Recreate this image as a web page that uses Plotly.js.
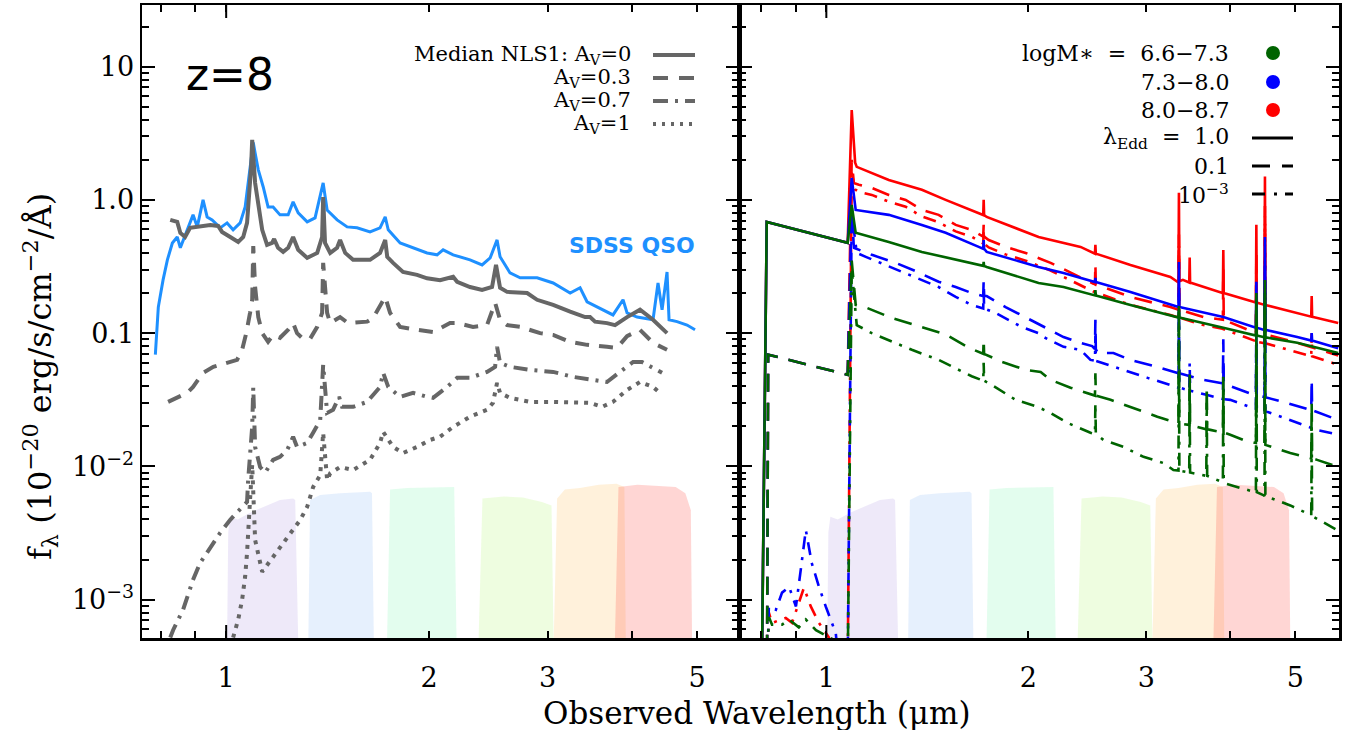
<!DOCTYPE html>
<html><head><meta charset="utf-8">
<script src="https://cdn.plot.ly/plotly-3.0.1.min.js"></script>
<style>html,body{margin:0;padding:0;background:#fff}#chart{width:1354px;height:730px}</style>
</head><body><div id="chart"></div>
<script>
// ---------------- DATA ----------------
// Left panel: SDSS QSO composite
const qsoLam = [0.785,0.793,0.806,0.818,0.832,0.846,0.855,0.875,0.893,0.906,0.924,0.937,0.953,0.980,1.003,1.024,1.049,1.067,1.085,1.097,1.104,1.116,1.135,1.154,1.174,1.202,1.236,1.257,1.279,1.319,1.355,1.393,1.412,1.461,1.512,1.564,1.635,1.692,1.722,1.740,1.812,1.894,1.987,2.056,2.099,2.172,2.301,2.398,2.465,2.524,2.550,2.638,2.731,2.894,3.057,3.240,3.352,3.433,3.625,3.751,3.882,3.936,4.073,4.301,4.375,4.436,4.512,4.543,4.669,4.831,4.965];
const qsoF = [0.069,0.157,0.251,0.355,0.475,0.527,0.437,0.596,0.772,0.627,1.0,0.745,0.708,0.617,0.672,0.596,0.672,0.886,1.77,2.70,2.25,1.68,1.25,0.886,0.886,0.772,0.772,0.966,0.80,0.684,0.733,1.34,0.84,0.708,0.627,0.617,0.575,0.617,0.745,0.596,0.475,0.437,0.40,0.387,0.422,0.387,0.355,0.325,0.367,0.501,0.374,0.283,0.260,0.260,0.238,0.200,0.219,0.172,0.150,0.137,0.178,0.142,0.132,0.126,0.238,0.150,0.288,0.126,0.122,0.115,0.106];

// Median NLS1, Av = 0
const nls0Lam = [0.826,0.846,0.855,0.869,0.884,0.915,0.947,0.973,0.986,1.014,1.042,1.060,1.074,1.089,1.093,1.104,1.116,1.131,1.150,1.170,1.178,1.194,1.215,1.236,1.257,1.279,1.319,1.365,1.388,1.393,1.402,1.427,1.461,1.476,1.502,1.543,1.635,1.692,1.722,1.734,1.769,1.830,1.920,1.987,2.077,2.172,2.202,2.301,2.398,2.481,2.515,2.550,2.612,2.797,2.894,3.057,3.240,3.410,3.468,3.528,3.675,3.777,3.936,4.073,4.114,4.301,4.512];
const nls0F = [0.708,0.684,0.565,0.527,0.617,0.638,0.649,0.638,0.575,0.527,0.484,0.527,0.672,1.77,2.82,1.34,0.95,0.596,0.459,0.475,0.509,0.437,0.407,0.437,0.527,0.422,0.367,0.40,0.527,1.05,0.475,0.40,0.437,0.501,0.40,0.355,0.355,0.40,0.501,0.374,0.337,0.288,0.274,0.258,0.25,0.265,0.243,0.222,0.211,0.222,0.325,0.219,0.204,0.200,0.178,0.163,0.145,0.132,0.132,0.122,0.119,0.115,0.132,0.145,0.150,0.126,0.100];
// Av = 0.3
const nls3Lam = [0.820,0.846,0.875,0.893,0.924,0.957,1.003,1.038,1.056,1.071,1.085,1.093,1.097,1.104,1.116,1.131,1.154,1.174,1.202,1.236,1.257,1.274,1.301,1.332,1.365,1.388,1.393,1.412,1.427,1.476,1.517,1.619,1.652,1.722,1.751,1.812,1.920,2.028,2.149,2.202,2.325,2.439,2.507,2.550,2.612,2.731,2.924,3.057,3.240,3.433,3.675,3.803,3.936,4.114,4.301,4.512];
const nls3F = [0.0305,0.0327,0.0356,0.0395,0.0504,0.0559,0.0598,0.0631,0.075,0.10,0.142,0.178,0.45,0.222,0.132,0.10,0.0861,0.097,0.0923,0.106,0.119,0.10,0.0906,0.0906,0.1115,0.142,0.337,0.142,0.119,0.132,0.119,0.122,0.130,0.187,0.142,0.1115,0.106,0.102,0.119,0.119,0.1115,0.115,0.169,0.126,0.115,0.1115,0.10,0.097,0.0861,0.0817,0.079,0.0776,0.095,0.106,0.0846,0.075];
// Av = 0.7
const nls7Lam = [0.826,0.834,0.863,0.893,0.915,0.947,0.980,1.014,1.049,1.074,1.078,1.085,1.093,1.097,1.104,1.123,1.143,1.174,1.202,1.232,1.257,1.274,1.319,1.346,1.379,1.393,1.412,1.441,1.471,1.486,1.543,1.619,1.692,1.710,1.740,1.812,1.894,1.987,2.028,2.128,2.202,2.301,2.439,2.507,2.524,2.550,2.638,2.825,3.057,3.273,3.468,3.675,3.842,4.018,4.143,4.301,4.436];
const nls7F = [5.2e-4,5.9e-4,8.4e-4,1.41e-3,1.89e-3,2.49e-3,3.18e-3,3.98e-3,4.72e-3,5.42e-3,7.9e-3,0.0133,0.0198,0.039,0.014,0.0099,0.009,0.0112,0.0118,0.0133,0.0167,0.014,0.015,0.0179,0.0223,0.0578,0.0252,0.0266,0.0333,0.028,0.028,0.0305,0.0395,0.0504,0.0395,0.0333,0.0356,0.0333,0.0327,0.0395,0.0462,0.0462,0.0512,0.0559,0.079,0.0598,0.0559,0.053,0.0512,0.047,0.0446,0.043,0.0512,0.0608,0.0608,0.0548,0.0504];
// Av = 1
const nls10Lam = [1.024,1.042,1.056,1.067,1.074,1.078,1.085,1.093,1.104,1.131,1.174,1.215,1.257,1.288,1.319,1.346,1.379,1.393,1.412,1.427,1.476,1.543,1.635,1.692,1.710,1.769,1.830,1.920,2.007,2.077,2.172,2.301,2.439,2.489,2.524,2.550,2.638,2.825,3.057,3.273,3.468,3.613,3.751,3.936,4.114,4.301,4.405];
const nls10F = [5.2e-4,7.1e-4,1.0e-3,1.49e-3,2.25e-3,3.52e-3,5.6e-3,0.0103,2.81e-3,1.62e-3,2.1e-3,2.67e-3,3.34e-3,3.97e-3,4.98e-3,7.0e-3,8.6e-3,0.0179,7.9e-3,8.9e-3,9.9e-3,9.4e-3,0.0112,0.0150,0.0182,0.0140,0.0126,0.0140,0.0158,0.0167,0.0198,0.0236,0.0266,0.030,0.0424,0.0356,0.0327,0.0305,0.0305,0.030,0.030,0.028,0.0305,0.0375,0.043,0.0395,0.0356];

// Right panel model spectra: continuum nodes + emission lines [lambda, base, peak]
// logM* 8.0-8.7 (red)
const redEdd1Lam = [0.802,0.815,1.076,1.091,1.104,1.110,1.239,1.388,1.506,1.687,1.734,2.072,2.393,2.502,2.840,3.257,3.337,3.40,3.894,4.39,5.034,5.794];
const redEdd1F = [4e-4,0.684,0.476,4.73,1.9,1.77,1.41,1.19,1.0,0.795,0.745,0.527,0.444,0.40,0.325,0.264,0.243,0.251,0.20,0.169,0.142,0.119];
const redEdd1Lines = [[1.716,0.77,1.0],[2.518,0.395,0.46],[3.354,0.245,1.13],[3.48,0.24,0.37],[3.906,0.20,0.42],[4.375,0.17,0.65],[4.506,0.163,1.5],[5.29,0.133,0.19]];
const redEdd01Lam = [0.816,0.819,1.076,1.091,1.099,1.118,1.169,1.239,1.313,1.388,1.470,1.559,1.647,1.746,1.850,1.982,2.159,2.502,2.537,2.840,3.257,3.648,3.894,4.39,5.034,5.794];
const redEdd01F = [4e-4,0.069,0.0487,2.0,1.34,1.30,1.23,1.09,1.0,0.841,0.772,0.649,0.596,0.50,0.444,0.40,0.337,0.235,0.230,0.187,0.157,0.132,0.126,0.10,0.0846,0.068];
const redEdd01Lines = [[1.716,0.53,0.65],[2.518,0.232,0.33],[3.354,0.15,0.55],[3.906,0.126,0.30],[4.375,0.10,0.42],[4.506,0.098,0.9]];
const redEdd3Lam = [0.8175,0.821,0.830,0.870,0.889,0.926,0.948,0.975,1.009,1.03,1.076,1.091,1.103,1.118,1.169,1.239,1.313,1.388,1.470,1.559,1.647,1.746,1.850,1.982,2.159,2.502,2.537,2.840,3.257,3.648,3.894,4.39,5.034,5.794];
const redEdd3F = [4e-4,8.0e-4,6.7e-4,7.3e-4,6.7e-4,1.23e-3,8.9e-4,6.7e-4,5.2e-4,3e-4,3e-4,1.6,1.2,1.15,1.09,0.97,0.89,0.75,0.68,0.58,0.53,0.44,0.39,0.35,0.295,0.205,0.20,0.163,0.137,0.115,0.108,0.086,0.072,0.058];
const redEdd3Lines = [[1.716,0.47,0.60],[3.354,0.131,0.45],[4.375,0.087,0.3],[4.506,0.084,0.75],[5.29,0.067,0.1]];
// logM* 7.3-8.0 (blue)
const bluEdd1Lam = [0.802,0.815,1.076,1.091,1.106,1.239,1.388,1.506,1.687,1.734,2.072,2.257,2.502,2.840,3.291,3.906,4.48,5.034,5.794];
const bluEdd1F = [4e-4,0.684,0.476,1.46,0.841,0.772,0.649,0.566,0.444,0.407,0.314,0.283,0.243,0.204,0.163,0.132,0.106,0.0935,0.077];
const bluEdd1Lines = [[1.716,0.43,0.50],[2.518,0.242,0.26],[3.354,0.157,0.342],[4.375,0.11,0.243],[4.506,0.106,0.527],[5.29,0.088,0.10]];
const bluEdd01Lam = [0.816,0.819,1.076,1.091,1.099,1.169,1.269,1.359,1.470,1.559,1.647,1.734,1.850,2.020,2.108,2.257,2.393,2.490,2.537,2.679,2.840,3.115,3.337,3.648,3.95,4.241,4.48,4.80,5.265,5.794];
const bluEdd01F = [4e-4,0.069,0.0487,0.9,0.437,0.387,0.337,0.292,0.243,0.222,0.20,0.19,0.157,0.125,0.1115,0.0935,0.0846,0.08,0.071,0.071,0.063,0.0559,0.0504,0.0446,0.041,0.036,0.0333,0.0305,0.0266,0.0223];
const bluEdd01Lines = [[1.716,0.19,0.25],[2.518,0.076,0.126],[3.354,0.050,0.20],[3.906,0.042,0.09],[4.375,0.034,0.15],[4.506,0.033,0.32],[5.29,0.0264,0.045]];
const bluEdd3Lam = [0.8175,0.821,0.841,0.859,0.880,0.901,0.916,0.932,0.951,0.975,0.998,1.033,1.045,1.076,1.091,1.110,1.145,1.313,1.470,1.559,1.647,1.787,1.954,2.072,2.108,2.257,2.393,2.476,2.679,2.840,3.012,3.257,3.453,3.698,4.0,4.285,4.59,5.034,5.39,5.794];
const bluEdd3F = [4e-4,8.9e-4,8.4e-4,1.13e-3,1.25e-3,8.9e-4,1.68e-3,3.34e-3,1.89e-3,1.25e-3,8.9e-4,5.6e-4,3e-4,3e-4,0.8,0.40,0.374,0.283,0.222,0.187,0.163,0.142,0.1115,0.10,0.0935,0.079,0.075,0.063,0.0559,0.0512,0.0462,0.0409,0.0375,0.0343,0.0316,0.028,0.0252,0.0212,0.0188,0.0173];
const bluEdd3Lines = [[1.716,0.153,0.22],[2.518,0.062,0.095],[3.354,0.039,0.15],[3.48,0.037,0.06],[3.906,0.032,0.06],[4.375,0.027,0.1],[4.506,0.026,0.25]];
// logM* 6.6-7.3 (green)
const grnEdd1Lam = [0.802,0.815,1.076,1.091,1.106,1.239,1.388,1.559,1.687,1.734,2.072,2.257,2.502,2.840,3.337,3.906,4.48,5.034,5.794];
const grnEdd1F = [4e-4,0.684,0.476,0.917,0.566,0.484,0.407,0.355,0.325,0.314,0.238,0.222,0.193,0.163,0.132,0.110,0.0935,0.0846,0.071];
const grnEdd1Lines = [[1.716,0.32,0.342],[2.518,0.192,0.21],[3.354,0.131,0.16],[4.375,0.096,0.2],[4.506,0.093,0.25]];
const grnEdd01Lam = [0.816,0.819,1.076,1.091,1.106,1.149,1.252,1.506,1.630,1.825,1.982,2.087,2.159,2.312,2.494,2.652,2.840,3.115,3.337,3.736,4.0,4.183,4.48,4.915,5.39,5.794];
const grnEdd01F = [4e-4,0.069,0.0487,0.35,0.163,0.155,0.130,0.098,0.0778,0.061,0.053,0.0512,0.0446,0.039,0.0343,0.0316,0.028,0.0236,0.0212,0.0188,0.0173,0.0158,0.0146,0.0126,0.0112,0.0099];
const grnEdd01Lines = [[1.716,0.07,0.09],[2.518,0.034,0.05],[3.354,0.021,0.15],[3.48,0.0205,0.05],[3.69,0.019,0.04],[3.906,0.018,0.05],[4.375,0.015,0.1],[4.506,0.0145,0.2],[5.29,0.0115,0.03]];
const grnEdd3Lam = [0.8175,0.821,0.830,0.859,0.880,0.910,0.932,0.965,0.998,1.033,1.05,1.076,1.091,1.110,1.169,1.239,1.341,1.470,1.647,1.764,1.915,2.064,2.159,2.289,2.476,2.589,2.773,2.970,3.181,3.291,3.648,3.95,4.183,4.48,4.915,5.318,5.794];
const grnEdd3F = [4e-4,7.4e-4,6.5e-4,6.5e-4,7.1e-4,6.2e-4,7.1e-4,5.9e-4,5.4e-4,4.9e-4,3e-4,3e-4,0.3,0.115,0.10,0.0887,0.075,0.063,0.0475,0.0409,0.0316,0.028,0.0252,0.0212,0.0179,0.0158,0.014,0.0118,0.0106,0.0094,0.0086,0.0074,0.0068,0.0061,0.0051,0.0042,0.0033];
const grnEdd3Lines = [[1.716,0.044,0.06],[2.518,0.0175,0.03],[3.354,0.0093,0.12],[3.48,0.009,0.04],[3.69,0.0085,0.03],[3.906,0.0076,0.04],[4.375,0.0064,0.08],[4.506,0.006,0.17],[5.29,0.0043,0.02]];

// NIRCam filter throughput outlines (scaled)
const filterNames = ['F115W','F150W','F200W','F277W','F356W','F444W'];
const filterLam = [
  [1.0,1.007,1.014,1.04,1.085,1.15,1.202,1.257,1.266,1.288],
  [1.319,1.332,1.379,1.476,1.635,1.646,1.663],
  [1.722,1.751,1.856,2.077,2.180,2.208],
  [2.349,2.401,2.582,2.756,2.942,3.040,3.078],
  [3.040,3.099,3.182,3.350,3.574,3.797,3.90,3.93],
  [3.748,3.822,4.079,4.647,4.803,4.894,4.93]
];
const filterF = [
  [1e-4,3.2e-3,4.2e-3,4.0e-3,4.5e-3,5.1e-3,5.6e-3,5.75e-3,5.6e-3,1e-4],
  [1e-4,5.6e-3,6.1e-3,6.3e-3,6.45e-3,6.3e-3,1e-4],
  [1e-4,6.7e-3,6.9e-3,7.0e-3,7.0e-3,1e-4],
  [1e-4,5.75e-3,5.95e-3,5.85e-3,5.4e-3,5.1e-3,1e-4],
  [1e-4,5.75e-3,6.7e-3,6.9e-3,7.3e-3,7.4e-3,7.0e-3,1e-4],
  [1e-4,7.0e-3,7.3e-3,7.0e-3,6.3e-3,4.7e-3,1e-4]
];

// Axis ticks
const xTickVals = [1,2,3,5];
const xTickText = ['1','2','3','5'];
const xMinorVals = [0.8,0.9,4];
const yTickVals = [0.001,0.01,0.1,1,10];
const yTickText = ['10<sup>−3</sup>','10<sup>−2</sup>','0.1','1.0','10'];
const yMinorVals = [6e-4,7e-4,8e-4,9e-4,2e-3,3e-3,4e-3,5e-3,6e-3,7e-3,8e-3,9e-3,0.02,0.03,0.04,0.05,0.06,0.07,0.08,0.09,0.2,0.3,0.4,0.5,0.6,0.7,0.8,0.9,2,3,4,5,6,7,8,9,20];

// ---------------- STYLE / BUILD ----------------
const GRAY = '#666666', QSO = '#1E90FF', RED = '#FF0000', BLUE = '#0000FF', GREEN = '#006400';
const filterColors = ['rgba(150,120,220,0.16)','rgba(100,160,240,0.16)','rgba(80,240,150,0.16)','rgba(150,240,60,0.16)','rgba(255,170,40,0.17)','rgba(255,60,50,0.21)'];
const DASH_L = '14px,10px', DASHDOT_L = '14px,7px,3px,7px', DOT_L = '4px,6px';
const DASH_R = '18px,11px', DASHDOT_R = '13px,8px,3px,8px';

function merge(lam, f, lines){
  const pts = lam.map((l,i)=>[l,f[i]]);
  (lines||[]).forEach(([l,b,p])=>{ pts.push([l*0.9985,b],[l,p],[l*1.0015,b]); });
  pts.sort((a,b)=>a[0]-b[0]);
  return {x: pts.map(p=>p[0]), y: pts.map(p=>p[1])};
}

const traces = [];
['x','x2'].forEach((xa,k)=>{
  const ya = k===0 ? 'y' : 'y2';
  filterLam.forEach((lam,i)=>{
    traces.push({x: lam, y: filterF[i], xaxis: xa, yaxis: ya, type:'scatter', mode:'lines',
      fill:'toself', fillcolor: filterColors[i], line:{width:0, color:'rgba(0,0,0,0)'}, hoverinfo:'skip', name: filterNames[i]});
  });
});

traces.push({x: qsoLam, y: qsoF, mode:'lines', line:{color:QSO, width:3}, xaxis:'x', yaxis:'y'});
traces.push({x: nls10Lam, y: nls10F, mode:'lines', line:{color:GRAY, width:4, dash:DOT_L}, xaxis:'x', yaxis:'y'});
traces.push({x: nls7Lam, y: nls7F, mode:'lines', line:{color:GRAY, width:4, dash:DASHDOT_L}, xaxis:'x', yaxis:'y'});
traces.push({x: nls3Lam, y: nls3F, mode:'lines', line:{color:GRAY, width:4, dash:DASH_L}, xaxis:'x', yaxis:'y'});
traces.push({x: nls0Lam, y: nls0F, mode:'lines', line:{color:GRAY, width:4}, xaxis:'x', yaxis:'y'});

const rightSeries = [
  [redEdd3Lam, redEdd3F, redEdd3Lines, RED, DASHDOT_R],
  [redEdd01Lam, redEdd01F, redEdd01Lines, RED, DASH_R],
  [redEdd1Lam, redEdd1F, redEdd1Lines, RED, 'solid'],
  [bluEdd3Lam, bluEdd3F, bluEdd3Lines, BLUE, DASHDOT_R],
  [bluEdd01Lam, bluEdd01F, bluEdd01Lines, BLUE, DASH_R],
  [bluEdd1Lam, bluEdd1F, bluEdd1Lines, BLUE, 'solid'],
  [grnEdd3Lam, grnEdd3F, grnEdd3Lines, GREEN, DASHDOT_R],
  [grnEdd01Lam, grnEdd01F, grnEdd01Lines, GREEN, DASH_R],
  [grnEdd1Lam, grnEdd1F, grnEdd1Lines, GREEN, 'solid']
];
rightSeries.forEach(([lam,f,lines,color,dash])=>{
  const m = merge(lam,f,lines);
  traces.push({x:m.x, y:m.y, mode:'lines', line:{color:color, width:2.6, dash:dash}, xaxis:'x2', yaxis:'y2'});
});

// geometry
const W=1354, H=730, ML=142, MR=15, MT=5, MB=92;
const PW = W-ML-MR, PH = H-MT-MB;
const split = 597/PW;
const xr1 = [Math.log10(0.750), Math.log10(5.77)];
const xr2 = [Math.log10(0.741), Math.log10(5.81)];
const yr = [Math.log10(5.16e-4), Math.log10(29.0)];
const px = v => (v-ML)/PW;       // pixel -> paper x
const py = v => (H-MB-v)/PH;     // pixel -> paper y

const tickFont = {family:'DejaVu Serif', size:27, color:'#000'};
function xAxis(domain, range, anchor){
  return {type:'log', domain:domain, range:range, anchor:anchor, showline:true, linewidth:2.5, linecolor:'#000',
    mirror:'allticks', ticks:'inside', ticklen:7, tickwidth:2, tickcolor:'#000',
    tickmode:'array', tickvals:xTickVals, ticktext:xTickText, tickfont:tickFont, ticklabelstandoff:14,
    minor:{tickmode:'array', tickvals:xMinorVals, ticks:'inside', ticklen:7, tickwidth:2, tickcolor:'#000', showgrid:false},
    showgrid:false, zeroline:false, fixedrange:true};
}
function yAxis(anchor, labels){
  return {type:'log', domain:[0,1], range:yr, anchor:anchor, showline:true, linewidth:2.5, linecolor:'#000',
    mirror:'allticks', ticks:'inside', ticklen:13, tickwidth:2, tickcolor:'#000',
    tickmode:'array', tickvals:yTickVals, ticktext:yTickText, tickfont:tickFont, showticklabels:labels,
    minor:{tickmode:'array', tickvals:yMinorVals, ticks:'inside', ticklen:7, tickwidth:2, tickcolor:'#000', showgrid:false},
    showgrid:false, zeroline:false, fixedrange:true};
}

// long ticks at 1 micron
const one1 = split*(0-xr1[0])/(xr1[1]-xr1[0]);
const one2 = split + (1-split)*(0-xr2[0])/(xr2[1]-xr2[0]);
const tl = 13/PH;
const shapes = [];
[one1, one2].forEach(xp=>{
  shapes.push({type:'line', xref:'paper', yref:'paper', x0:xp, x1:xp, y0:0, y1:tl, line:{color:'#000', width:2}});
  shapes.push({type:'line', xref:'paper', yref:'paper', x0:xp, x1:xp, y0:1-tl, y1:1, line:{color:'#000', width:2}});
});

const serif = 'DejaVu Serif';
const annotations = [];
function txt(text, x, y, size, opts){
  annotations.push(Object.assign({text:text, xref:'paper', yref:'paper', x:x, y:y, showarrow:false,
    xanchor:'right', yanchor:'middle', font:{family:serif, size:size, color:'#000'}}, opts||{}));
}
const NB = '\u00A0';
// left legend
const legL = [55,78,101,124];
const legLText = ['Median NLS1: A<sub>V</sub>=0','A<sub>V</sub>=0.3','A<sub>V</sub>=0.7','A<sub>V</sub>=1'];
const legLDash = ['solid', '15px,11px', '15px,7px,3px,7px', '3px,6px'];
legL.forEach((y,i)=>{
  txt(legLText[i], px(633), py(y), 21);
  shapes.push({type:'line', xref:'paper', yref:'paper', x0:px(653), x1:px(695), y0:py(y), y1:py(y), line:{color:GRAY, width:4, dash:legLDash[i]}});
});
// right legend
const legR = [53,82,110,138,166,194];
const legRText = ['logM∗'+NB+NB+'='+NB+NB+'6.6−7.3','7.3−8.0','8.0−8.7','λ<sub>Edd</sub>'+NB+NB+'='+NB+NB+'1.0','0.1','10<sup>−3</sup>'];
legR.forEach((y,i)=>{ txt(legRText[i], px(1231), py(y), 22); });
[GREEN, BLUE, RED].forEach((c,i)=>{
  const cx = px(1273), cy = py(legR[i]), rx = 7/PW, ry = 7/PH;
  shapes.push({type:'circle', xref:'paper', yref:'paper', x0:cx-rx, x1:cx+rx, y0:cy-ry, y1:cy+ry, fillcolor:c, line:{width:0}});
});
['solid', '18px,12px', '13px,9px,3px,8px'].forEach((d,i)=>{
  const y = py(legR[3+i]);
  shapes.push({type:'line', xref:'paper', yref:'paper', x0:px(1252), x1:px(1293), y0:y, y1:y, line:{color:'#000', width:3, dash:d}});
});
// labels
txt('z=8', px(230), py(75), 44, {xanchor:'center', font:{family:'DejaVu Sans', size:44, color:'#000'}});
txt('SDSS QSO', px(697), py(245), 22, {font:{family:'DejaVu Sans', size:22, color:QSO, weight:'bold'}});
txt('Observed Wavelength (μm)', px(756), py(713), 31, {xanchor:'center'});
txt('f<sub>λ</sub> (10<sup>−20</sup> erg/s/cm<sup>−2</sup>/Å)', px(40), py(377), 32, {xanchor:'center', textangle:-90});

const layout = {
  width:W, height:H, margin:{l:ML, r:MR, t:MT, b:MB, pad:0},
  paper_bgcolor:'#fff', plot_bgcolor:'#fff', showlegend:false, hovermode:false,
  xaxis: xAxis([0,split], xr1, 'y'),
  xaxis2: xAxis([split,1], xr2, 'y2'),
  yaxis: yAxis('x', true),
  yaxis2: yAxis('x2', false),
  shapes: shapes, annotations: annotations
};
Plotly.newPlot('chart', traces, layout, {staticPlot:true, displayModeBar:false});
</script></body></html>
